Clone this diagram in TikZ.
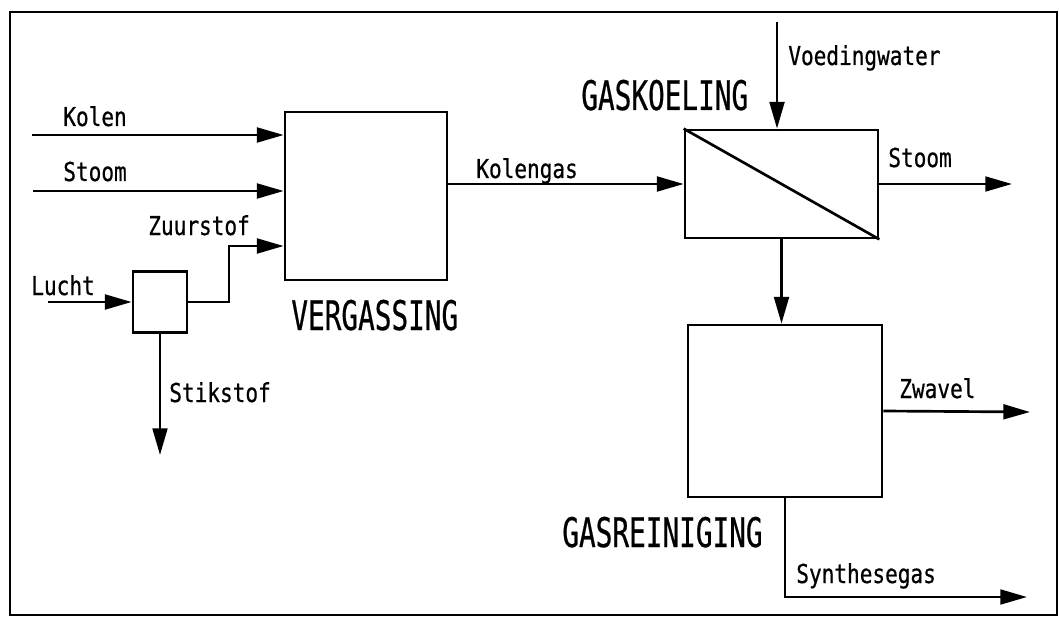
\documentclass[tikz,border=0pt]{standalone}
\usepackage{fontspec}
\usepackage{tikz}
\usetikzlibrary{arrows.meta, positioning}
\newfontfamily\plotfont[FakeStretch=0.81, FakeBold=0.6]{DejaVu Sans Mono}
\newfontfamily\plotbigfont[FakeStretch=0.68, FakeBold=0.5]{DejaVu Sans Mono}

\begin{document}
\begin{tikzpicture}[
    line width=1.9pt,
    unit/.style={draw, line width=1.9pt, inner sep=0pt},
    flow/.style={-{Triangle[length=19pt, width=10.5pt]}, line width=1.9pt},
    lbl/.style={anchor=base west, inner sep=0pt, font=\plotfont\fontsize{18.5}{22}\selectfont},
    title/.style={anchor=base west, inner sep=0pt, font=\plotbigfont\fontsize{29}{34}\selectfont}
  ]
    \useasboundingbox (0, 0) rectangle (26.475, 15.55);
    % Frame
    \draw (0.25, 0.175) rectangle (26.425, 15.25);

    % Units
    \node[unit, minimum width=4.05cm, minimum height=4.2cm] (verg) at (9.15, 10.65) {};
    \node[unit, minimum width=1.35cm, minimum height=1.525cm] (split) at (4.0, 8.0) {};
    \node[unit, minimum width=4.825cm, minimum height=2.7cm] (koel) at (19.5375, 10.95) {};
    \node[unit, minimum width=4.85cm, minimum height=4.3cm] (rein) at (19.625, 5.275) {};
    \draw (koel.north west) -- (koel.south east);

    % Free ends
    \coordinate (kolenin) at (0.8, 12.175);
    \coordinate (stoomin) at (0.825, 10.775);
    \coordinate (luchtin) at (1.2, 8.0);
    \coordinate (zbend) at (5.725, 9.4);
    \coordinate (stikout) at (4.0, 4.175);
    \coordinate (voedin) at (19.425, 15.0);
    \coordinate (stoomout) at (25.3, 10.95);
    \coordinate (zwavout) at (25.75, 5.25);
    \coordinate (synout) at (25.675, 0.625);

    % Flows
    \draw[flow] (kolenin) -- (kolenin -| verg.west);
    \draw[flow] (stoomin) -- (stoomin -| verg.west);
    \draw[flow] (luchtin) -- (split.west);
    \draw[flow] (split.east) -| (zbend) -- (zbend -| verg.west);
    \draw[flow] (split.south) -- (stikout);
    \draw[flow] (verg.east |- koel.west) -- (koel.west);
    \draw[flow] (voedin) -- (voedin |- koel.north);
    \draw[flow] (koel.east) -- (stoomout);
    \draw[flow] (koel.south) -- (koel.south |- rein.north);
    \draw[flow] (rein.east) -- (zwavout);
    \draw[flow] (rein.south) |- (synout);

    % Labels
    \node[lbl] (lkolen) at (1.55, 12.4) {Kolen};
    \node[lbl] (lstoomin) at (1.55, 11.025) {Stoom};
    \node[lbl] (lzuur) at (3.675, 9.675) {Zuurstof};
    \node[lbl] (llucht) at (0.75, 8.175) {Lucht};
    \node[lbl] (lstik) at (4.2, 5.5) {Stikstof};
    \node[lbl] (lkgas) at (11.875, 11.1) {Kolengas};
    \node[lbl] (lvoed) at (19.675, 13.925) {Voedingwater};
    \node[lbl] (lstoomout) at (22.175, 11.375) {Stoom};
    \node[lbl] (lzwavel) at (22.45, 5.6) {Zwavel};
    \node[lbl] (lsyn) at (19.875, 0.975) {Synthesegas};
    \node[title] (tverg) at (7.25, 7.3) {VERGASSING};
    \node[title] (tkoel) at (14.5, 12.8) {GASKOELING};
    \node[title] (trein) at (14.025, 1.875) {GASREINIGING};
\end{tikzpicture}
\end{document}
